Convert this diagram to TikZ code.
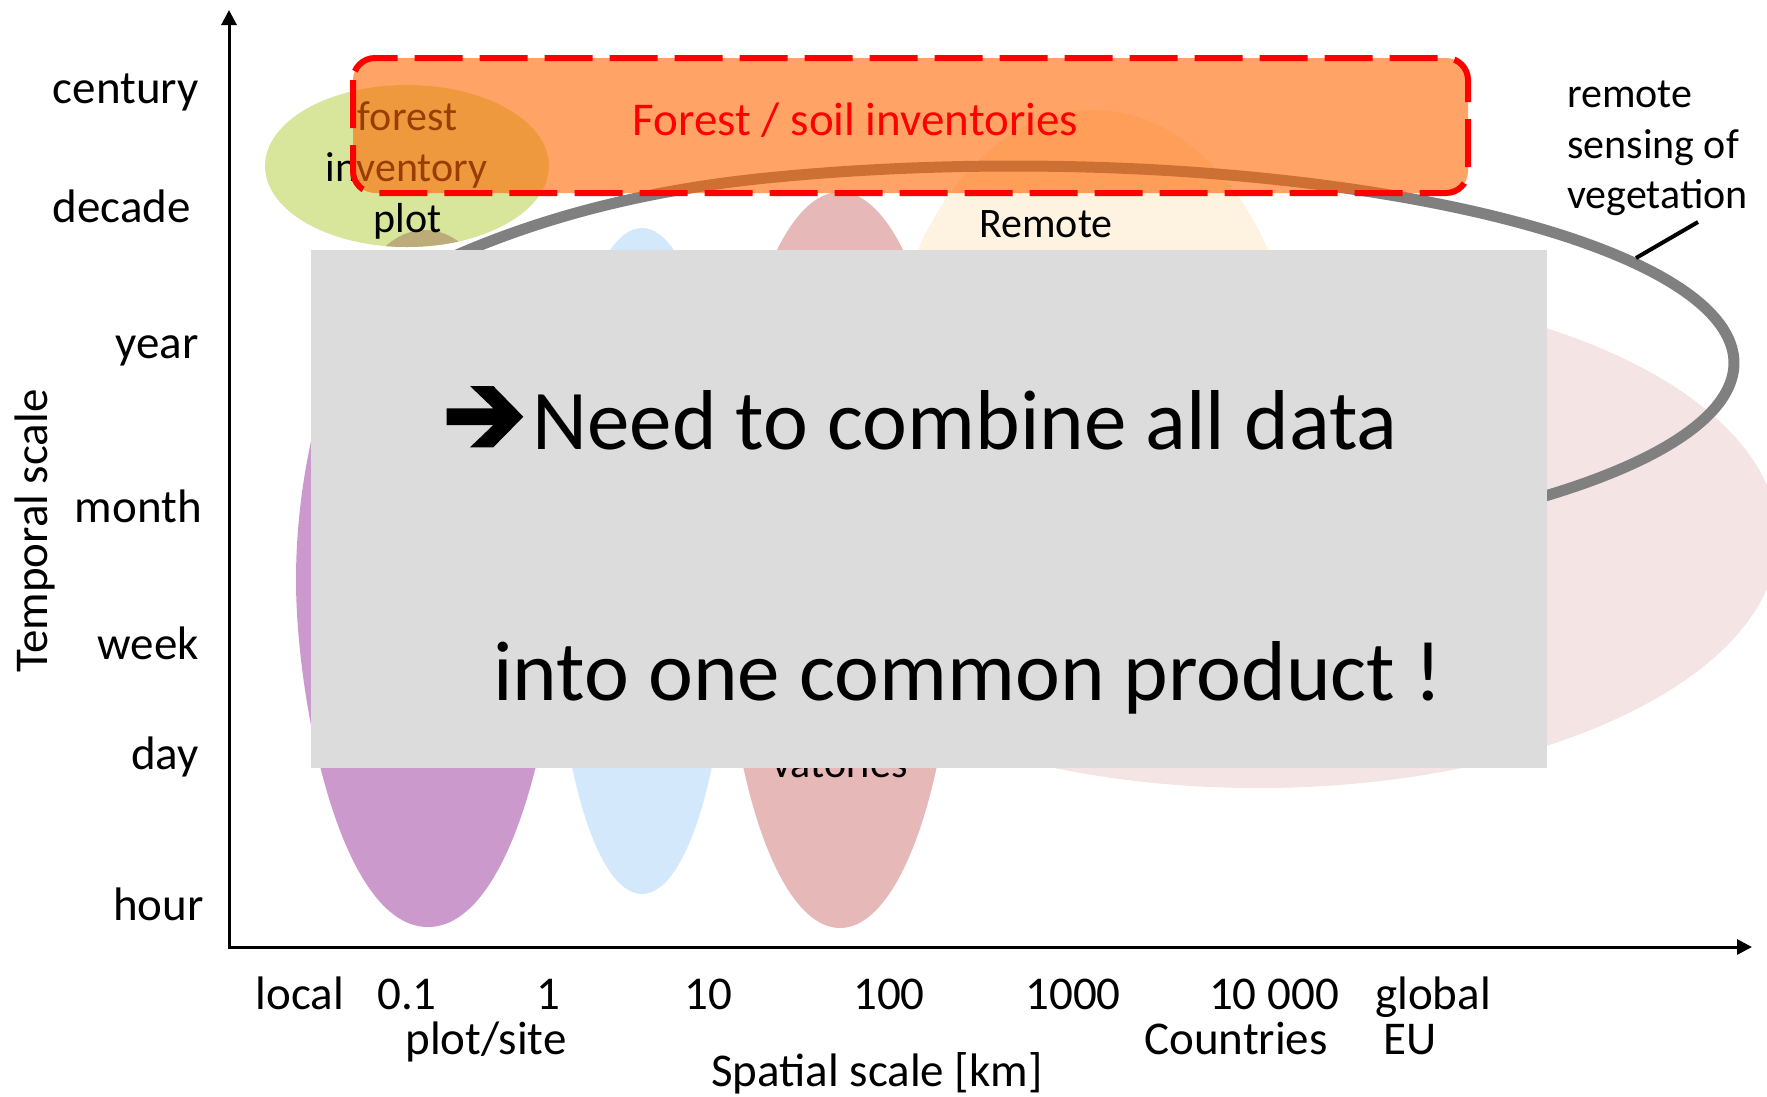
\documentclass[tikz,border=0pt]{standalone}
\usepackage{fontspec}
\setmainfont{Carlito}
\usetikzlibrary{arrows.meta}
\definecolor{pinkE}{RGB}{245,228,228}
\definecolor{peachE}{RGB}{254,242,224}
\definecolor{roseE}{RGB}{230,184,183}
\definecolor{blueE}{RGB}{212,232,252}
\definecolor{purpleE}{RGB}{204,153,204}
\definecolor{greenE}{RGB}{215,230,155}
\definecolor{tanE}{RGB}{187,172,122}
\definecolor{greyB}{RGB}{220,220,220}
\definecolor{curveC}{RGB}{128,128,128}
\definecolor{orangeF}{RGB}{255,103,0}
\definecolor{redD}{RGB}{255,0,0}
\begin{document}
\begin{tikzpicture}[x=1pt,y=-1pt,
  lab/.style={inner sep=0pt, font=\fontsize{47pt}{56pt}\selectfont},
  small/.style={inner sep=0pt, font=\fontsize{42pt}{50pt}\selectfont},
  big/.style={inner sep=0pt, font=\fontsize{85pt}{100pt}\selectfont},
  axisline/.style={line width=3pt, {Triangle[length=15pt,width=15pt]}-{Triangle[length=15pt,width=15pt]}},
  ylab/.style={lab, anchor=mid east},
  xlab/.style={lab, anchor=base},
]
\useasboundingbox (0,0) rectangle (1767,1096);

% background data ellipses
\fill[pinkE] (1258,537) ellipse [x radius=520pt, y radius=251pt];
\fill[peachE] (1093,410) ellipse [x radius=207pt, y radius=300pt];
\fill[roseE] (840,560) ellipse [x radius=117pt, y radius=368pt];
\fill[blueE] (642,561) ellipse [x radius=89pt, y radius=333pt];
\fill[purpleE] (428,927) .. controls (340,927) and (296,700) .. (296,580)
  .. controls (296,420) and (360,250) .. (428,250)
  .. controls (496,250) and (560,420) .. (560,580)
  .. controls (560,700) and (516,927) .. (428,927) -- cycle;
\node[small, anchor=base] (vat) at (840,777) {vatories};

% forest inventory plot
\fill[greenE] (407,166) ellipse [x radius=142pt, y radius=81pt];
\begin{scope}
  \clip (407,166) ellipse [x radius=142pt, y radius=81pt];
  \fill[tanE] (425,330) ellipse [x radius=72pt, y radius=100pt];
\end{scope}
\node[small, anchor=base] (fip1) at (407.5,130) {forest};
\node[small, anchor=base] (fip2) at (406.5,181) {inventory};
\node[small, anchor=base] (fip3) at (407.5,232) {plot};
\node[small, anchor=base] (rem) at (1046,237) {Remote};

% remote sensing curve
\draw[curveC, line width=11pt, line join=round]
  plot[domain=-50:110, samples=160] ({1014+720*cos(\x)},{363-197*sin(\x)})
  .. controls (617,193) and (500,230) .. (400,282);

% forest / soil inventories box
\draw[draw=redD, line width=6pt, dash pattern=on 48pt off 17pt,
      fill=orangeF, fill opacity=0.6, rounded corners=22pt]
  (353,58) rectangle (1468,193);
\node[lab, text=redD, anchor=base] (fsi) at (855.5,135) {Forest / soil inventories};

% axes
\coordinate (yt) at (229,10);
\coordinate (O) at (229,947);
\coordinate (xt) at (1752,947);
\draw[axisline] (yt) -- (O) -- (xt);

% temporal labels
\node[ylab] (tc) at (199,101) {century};
\node[ylab] (td) at (191,220) {decade};
\node[ylab] (ty) at (199,356) {year};
\node[ylab] (tm) at (202,520) {month};
\node[ylab] (tw) at (199,657) {week};
\node[ylab] (tdy) at (199,767) {day};
\node[ylab] (th) at (204,918) {hour};
\node[lab, rotate=90, anchor=base] (tlab) at (47,531) {Temporal scale};

% spatial labels
\node[xlab] (s1) at (300,1009) {local};
\node[xlab] (s2) at (407,1009) {0.1};
\node[xlab] (s3) at (548,1009) {1};
\node[xlab] (s4) at (708,1009) {10};
\node[xlab] (s5) at (889,1009) {100};
\node[xlab] (s6) at (1073,1009) {1000};
\node[xlab] (s7) at (1274,1009) {10 000};
\node[xlab] (s8) at (1433,1009) {global};
\node[xlab] (s9) at (486,1054) {plot/site};
\node[xlab] (s10) at (1236,1054) {Countries};
\node[xlab] (s11) at (1410,1054) {EU};
\node[xlab] (slab) at (877,1086) {Spatial scale [km]};

% remote sensing label
\node[small, anchor=base west] (rs1) at (1567,107) {remote};
\node[small, anchor=base west] (rs2) at (1567,158) {sensing of};
\node[small, anchor=base west] (rs3) at (1567,208) {vegetation};
\coordinate (leadA) at (1698,222);
\coordinate (leadB) at (1636,258);
\draw[line width=4pt] (leadA) -- (leadB);

% overlay message
\node[fill=greyB, inner sep=0pt, minimum width=1236pt, minimum height=518pt,
      anchor=north west] (msg) at (311,250) {};
\fill (446.7,408.3) -- (493.3,408.3) -- (470,386) -- (493.3,386) -- (523.3,416.7)
  -- (493.3,447.3) -- (470,447.3) -- (493.3,425) -- (446.7,425) -- cycle;
\node[big, anchor=base] (l1) at (965,449) {Need to combine all data};
\node[big, anchor=base] (l2) at (968,700) {into one common product !};
\end{tikzpicture}
\end{document}
